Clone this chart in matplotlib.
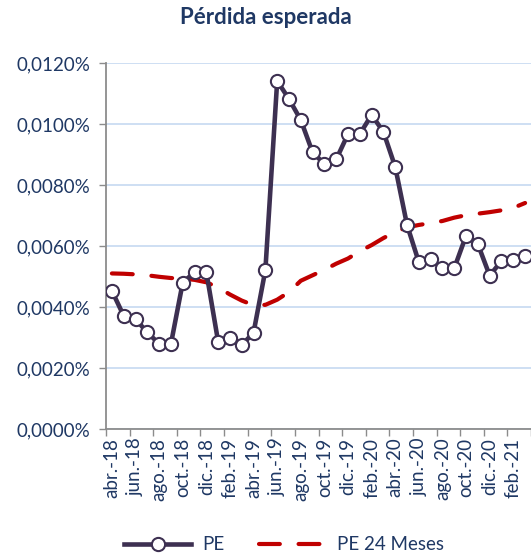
import matplotlib
matplotlib.use("Agg")
import matplotlib.pyplot as plt
import numpy as np
from matplotlib.ticker import FuncFormatter, FixedLocator

plt.rcParams['font.family'] = ['Lato', 'DejaVu Sans']

# meses abr-18 .. mar-21
months = ["abr.-18", "may.-18", "jun.-18", "jul.-18", "ago.-18", "sep.-18",
          "oct.-18", "nov.-18", "dic.-18", "ene.-19", "feb.-19", "mar.-19",
          "abr.-19", "may.-19", "jun.-19", "jul.-19", "ago.-19", "sep.-19",
          "oct.-19", "nov.-19", "dic.-19", "ene.-20", "feb.-20", "mar.-20",
          "abr.-20", "may.-20", "jun.-20", "jul.-20", "ago.-20", "sep.-20",
          "oct.-20", "nov.-20", "dic.-20", "ene.-21", "feb.-21", "mar.-21"]

# valores en %
pe = [0.00454, 0.00372, 0.00361, 0.00318, 0.00280, 0.00280,
      0.00481, 0.00515, 0.00515, 0.00287, 0.00298, 0.00276,
      0.00317, 0.00522, 0.01142, 0.01083, 0.01014, 0.00908,
      0.00870, 0.00885, 0.00968, 0.00968, 0.01031, 0.00975,
      0.00860, 0.00670, 0.00548, 0.00558, 0.00528, 0.00528,
      0.00635, 0.00607, 0.00504, 0.00552, 0.00554, 0.00568]

pe_24m = [0.00511, 0.00510, 0.00508, 0.00505, 0.00500, 0.00496,
          0.00494, 0.00490, 0.00482, 0.00465, 0.00442, 0.00422,
          0.00407, 0.00408, 0.00425, 0.00450, 0.00487, 0.00505,
          0.00523, 0.00543, 0.00560, 0.00584, 0.00604, 0.00627,
          0.00647, 0.00662, 0.00670, 0.00676, 0.00683, 0.00694,
          0.00702, 0.00707, 0.00712, 0.00718, 0.00726, 0.00742]

navy = "#1F3864"
x = np.arange(len(months))

fig = plt.figure(figsize=(5.31, 5.56), dpi=100)
ax = fig.add_axes([106 / 531, 1 - 429.3 / 556, 1 - 106 / 531, (429.3 - 63.3) / 556])

ax.plot(x, pe_24m, color="#C00000", lw=3.0, dashes=(5.0, 4.5),
        dash_capstyle="round", label="PE 24 Meses", zorder=3)
ax.plot(x, pe, color="#3D3051", lw=3.3, marker="o", ms=9.5,
        mfc="white", mec="#3D3051", mew=1.5, label="PE", zorder=4)

ax.set_xlim(-0.5, len(months) - 0.5)
ax.set_ylim(0, 0.012)
ax.set_yticks(np.arange(0, 0.0121, 0.002))
ax.yaxis.set_major_formatter(FuncFormatter(lambda v, p: f"{v:.4f}%".replace(".", ",")))
ax.grid(axis="y", color="#C6D9F1", lw=1.2)
ax.set_axisbelow(True)

ax.set_xticks(x[::2])
ax.set_xticklabels(months[::2], rotation=90)
ax.xaxis.set_minor_locator(FixedLocator(np.arange(-0.5, len(months), 2)))
ax.tick_params(axis="x", which="major", length=0, pad=6)
ax.tick_params(axis="x", which="minor", length=5, color="#8C8C8C", width=1)
ax.tick_params(axis="y", length=5, color="#8C8C8C", width=1, pad=6)
ax.tick_params(labelsize=13.5, labelcolor=navy)

for s in ["top", "right"]:
    ax.spines[s].set_visible(False)
for s in ["left", "bottom"]:
    ax.spines[s].set_color("#8C8C8C")
    ax.spines[s].set_linewidth(1.3)

fig.text(0.5, 1 - 18 / 556, "Pérdida esperada", ha="center", va="center",
         fontsize=16, fontweight="bold", color=navy)

h, l = ax.get_legend_handles_labels()
fig.legend(h[::-1], l[::-1], loc="center", bbox_to_anchor=(0.535, 1 - 545 / 556),
           ncol=2, frameon=False, fontsize=13.5, labelcolor=navy,
           handlelength=3.6, columnspacing=1.8, handletextpad=0.6)

fig.savefig("out.png", dpi=100)
